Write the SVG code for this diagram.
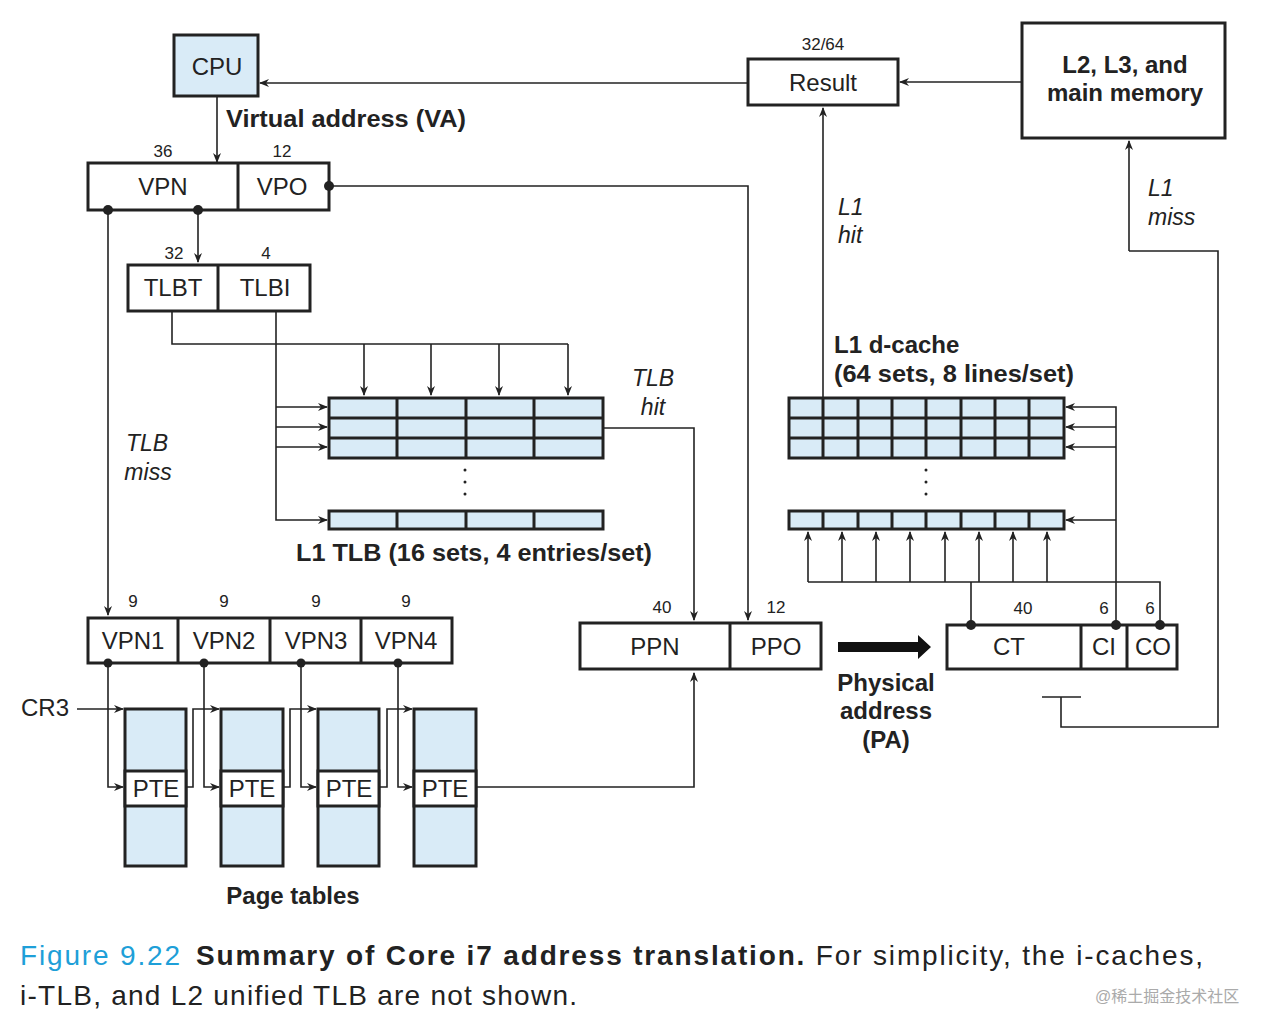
<svg xmlns="http://www.w3.org/2000/svg" width="1282" height="1034" viewBox="0 0 1282 1034">
<defs>
<marker id="a" markerWidth="10" markerHeight="8" refX="9" refY="4" orient="auto" markerUnits="userSpaceOnUse"><path d="M0,0 L10,4 L0,8 L3,4 z" fill="#222"/></marker>
<style>
.b{fill:#fff;stroke:#222;stroke-width:3}
.c{fill:#d9ebf7;stroke:#222;stroke-width:3}
.l{fill:none;stroke:#222;stroke-width:1.6}
.ar{fill:none;stroke:#222;stroke-width:1.6;marker-end:url(#a)}
.t{font-family:"Liberation Sans",Arial,sans-serif;font-size:24px;fill:#222;text-anchor:middle}
.n{font-family:"Liberation Sans",Arial,sans-serif;font-size:17px;fill:#222;text-anchor:middle}
.bd{font-family:"Liberation Sans",Arial,sans-serif;font-size:24px;font-weight:bold;fill:#222}
.it{font-family:"Liberation Sans",Arial,sans-serif;font-size:23px;font-style:italic;fill:#222}
.d{fill:#222}
</style>
</defs>
<rect width="1282" height="1034" fill="#fff"/>
<g id="cpu"><rect class="c" x="174" y="35" width="84" height="61"/><text class="t" x="217" y="75">CPU</text></g>
<text class="bd" x="226" y="127" textLength="240" lengthAdjust="spacingAndGlyphs">Virtual address (VA)</text>
<g id="va"><rect class="b" x="88" y="163" width="241" height="47"/><line class="l" x1="238" y1="163" x2="238" y2="210" style="stroke-width:3"/>
<text class="n" x="163" y="157">36</text><text class="n" x="282" y="157">12</text>
<text class="t" x="163" y="195">VPN</text><text class="t" x="282" y="195">VPO</text></g>
<g id="tlbti"><rect class="b" x="128" y="265" width="182" height="46"/><line class="l" x1="218" y1="265" x2="218" y2="311" style="stroke-width:3"/>
<text class="n" x="174" y="259">32</text><text class="n" x="266" y="259">4</text>
<text class="t" x="173" y="296">TLBT</text><text class="t" x="265" y="296">TLBI</text></g>
<g id="tlb">
<rect class="c" x="329" y="398" width="274" height="60"/>
<path class="l" style="stroke-width:3" d="M329,418H603M329,438H603M397,398V458M466,398V458M534,398V458"/>
<rect class="c" x="329" y="511" width="274" height="18"/>
<path class="l" style="stroke-width:3" d="M397,511V529M466,511V529M534,511V529"/>
<circle class="d" cx="465" cy="470" r="1.5"/><circle class="d" cx="465" cy="482" r="1.5"/><circle class="d" cx="465" cy="494" r="1.5"/>
</g>
<text class="bd" x="296" y="561" textLength="356" lengthAdjust="spacingAndGlyphs">L1 TLB (16 sets, 4 entries/set)</text>
<g id="vpns"><rect class="b" x="88" y="618" width="364" height="45"/>
<path class="l" style="stroke-width:3" d="M178,618V663M270,618V663M361,618V663"/>
<text class="n" x="133" y="607">9</text><text class="n" x="224" y="607">9</text><text class="n" x="316" y="607">9</text><text class="n" x="406" y="607">9</text>
<text class="t" x="133" y="649">VPN1</text><text class="t" x="224" y="649">VPN2</text><text class="t" x="316" y="649">VPN3</text><text class="t" x="406" y="649">VPN4</text></g>
<g id="pt">
<rect class="c" x="125" y="709" width="61" height="157"/><rect class="b" x="125" y="771" width="61" height="35"/><text class="t" x="156" y="797">PTE</text>
<rect class="c" x="221" y="709" width="62" height="157"/><rect class="b" x="221" y="771" width="62" height="35"/><text class="t" x="252" y="797">PTE</text>
<rect class="c" x="318" y="709" width="61" height="157"/><rect class="b" x="318" y="771" width="61" height="35"/><text class="t" x="349" y="797">PTE</text>
<rect class="c" x="414" y="709" width="62" height="157"/><rect class="b" x="414" y="771" width="62" height="35"/><text class="t" x="445" y="797">PTE</text>
</g>
<text class="bd" x="293" y="904" text-anchor="middle">Page tables</text>
<text class="t" x="45" y="716">CR3</text>
<g id="pa"><rect class="b" x="580" y="623" width="241" height="46"/><line class="l" x1="730" y1="623" x2="730" y2="669" style="stroke-width:3"/>
<text class="n" x="662" y="613">40</text><text class="n" x="776" y="613">12</text>
<text class="t" x="655" y="655">PPN</text><text class="t" x="776" y="655">PPO</text></g>
<path d="M838,642H918V635L931,647L918,659V652H838z" fill="#111"/>
<text class="bd" x="886" y="691" text-anchor="middle">Physical</text>
<text class="bd" x="886" y="719" text-anchor="middle">address</text>
<text class="bd" x="886" y="748" text-anchor="middle">(PA)</text>
<g id="ctcico"><rect class="b" x="947" y="625" width="230" height="44"/>
<path class="l" style="stroke-width:3" d="M1081,625V669M1127,625V669"/>
<text class="n" x="1023" y="614">40</text><text class="n" x="1104" y="614">6</text><text class="n" x="1150" y="614">6</text>
<text class="t" x="1009" y="655">CT</text><text class="t" x="1104" y="655">CI</text><text class="t" x="1153" y="655">CO</text></g>
<g id="dcache">
<rect class="c" x="789" y="398" width="275" height="60"/>
<path class="l" style="stroke-width:3" d="M789,418H1064M789,438H1064M823,398V458M858,398V458M892,398V458M926,398V458M961,398V458M995,398V458M1029,398V458"/>
<rect class="c" x="789" y="511" width="275" height="18"/>
<path class="l" style="stroke-width:3" d="M823,511V529M858,511V529M892,511V529M926,511V529M961,511V529M995,511V529M1029,511V529"/>
<circle class="d" cx="926" cy="470" r="1.5"/><circle class="d" cx="926" cy="482" r="1.5"/><circle class="d" cx="926" cy="494" r="1.5"/>
</g>
<text class="bd" x="834" y="353">L1 d-cache</text>
<text class="bd" x="834" y="382" textLength="240" lengthAdjust="spacingAndGlyphs">(64 sets, 8 lines/set)</text>
<g id="result"><rect class="b" x="748" y="59" width="150" height="46"/><text class="t" x="823" y="91">Result</text><text class="n" x="823" y="50">32/64</text></g>
<g id="mem"><rect class="b" x="1022" y="23" width="203" height="115"/>
<text class="bd" x="1125" y="73" text-anchor="middle">L2, L3, and</text><text class="bd" x="1125" y="101" text-anchor="middle">main memory</text></g>
<text class="it" x="653" y="386" text-anchor="middle">TLB</text><text class="it" x="653" y="415" text-anchor="middle">hit</text>
<text class="it" x="147" y="451" text-anchor="middle">TLB</text><text class="it" x="148" y="480" text-anchor="middle">miss</text>
<text class="it" x="838" y="215">L1</text><text class="it" x="838" y="243">hit</text>
<text class="it" x="1148" y="196">L1</text><text class="it" x="1148" y="225">miss</text>
<g id="connectors">
<path class="ar" d="M748,83H260"/>
<path class="ar" d="M1022,82H900"/>
<path class="ar" d="M217,96V162"/>
<path class="ar" d="M329,186H748V620"/>
<path class="ar" d="M198,210V262"/>
<path class="ar" d="M108,210V615"/>
<path class="l" d="M172,311V344H568"/>
<path class="ar" d="M364,344V395"/><path class="ar" d="M431,344V395"/><path class="ar" d="M499,344V395"/><path class="ar" d="M568,344V395"/>
<path class="ar" d="M276,311V520H327"/>
<path class="ar" d="M276,407H327"/><path class="ar" d="M276,427H327"/><path class="ar" d="M276,447H327"/>
<path class="ar" d="M603,428H694V620"/>
<path class="ar" d="M77,709H123"/>
<path class="ar" d="M108,663V787H123"/>
<path class="ar" d="M186,787H193V709H219"/>
<path class="ar" d="M204,663V787H219"/>
<path class="ar" d="M283,787H290V709H316"/>
<path class="ar" d="M301,663V787H316"/>
<path class="ar" d="M379,787H387V709H412"/>
<path class="ar" d="M398,663V787H412"/>
<path class="ar" d="M476,787H694V673"/>
<path class="l" d="M971,625V582M808,582H1160V625"/>
<path class="ar" d="M808,582V532"/><path class="ar" d="M842,582V532"/><path class="ar" d="M876,582V532"/><path class="ar" d="M910,582V532"/><path class="ar" d="M945,582V532"/><path class="ar" d="M979,582V532"/><path class="ar" d="M1013,582V532"/><path class="ar" d="M1047,582V532"/>
<path class="ar" d="M1116,625V407H1066"/>
<path class="ar" d="M1116,427H1066"/><path class="ar" d="M1116,447H1066"/><path class="ar" d="M1116,520H1066"/>
<path class="ar" d="M823,398V108"/>
<path class="l" d="M1042,697H1081M1061,697V727H1218V251H1129"/>
<path class="ar" d="M1129,251V141"/>
<circle class="d" cx="108" cy="210" r="5"/><circle class="d" cx="198" cy="210" r="5"/><circle class="d" cx="329" cy="186" r="5"/>
<circle class="d" cx="108" cy="663" r="4.5"/><circle class="d" cx="204" cy="663" r="4.5"/><circle class="d" cx="301" cy="663" r="4.5"/><circle class="d" cx="398" cy="663" r="4.5"/>
<circle class="d" cx="971" cy="625" r="5"/><circle class="d" cx="1116" cy="625" r="5"/><circle class="d" cx="1160" cy="625" r="5"/>
</g>
<text x="20" y="965" font-family="'Liberation Sans',Arial,sans-serif" font-size="28" fill="#222" textLength="1183" lengthAdjust="spacing"><tspan fill="#1e9fd8">Figure 9.22</tspan><tspan dx="14" font-weight="bold">Summary of Core i7 address translation.</tspan> For simplicity, the i-caches,</text>
<text x="20" y="1005" font-family="'Liberation Sans',Arial,sans-serif" font-size="28" fill="#222" textLength="557" lengthAdjust="spacing">i-TLB, and L2 unified TLB are not shown.</text>
<text x="1095" y="1002" font-family="'Liberation Sans','Noto Sans CJK SC',sans-serif" font-size="16" fill="#aaa">@稀土掘金技术社区</text>
</svg>
